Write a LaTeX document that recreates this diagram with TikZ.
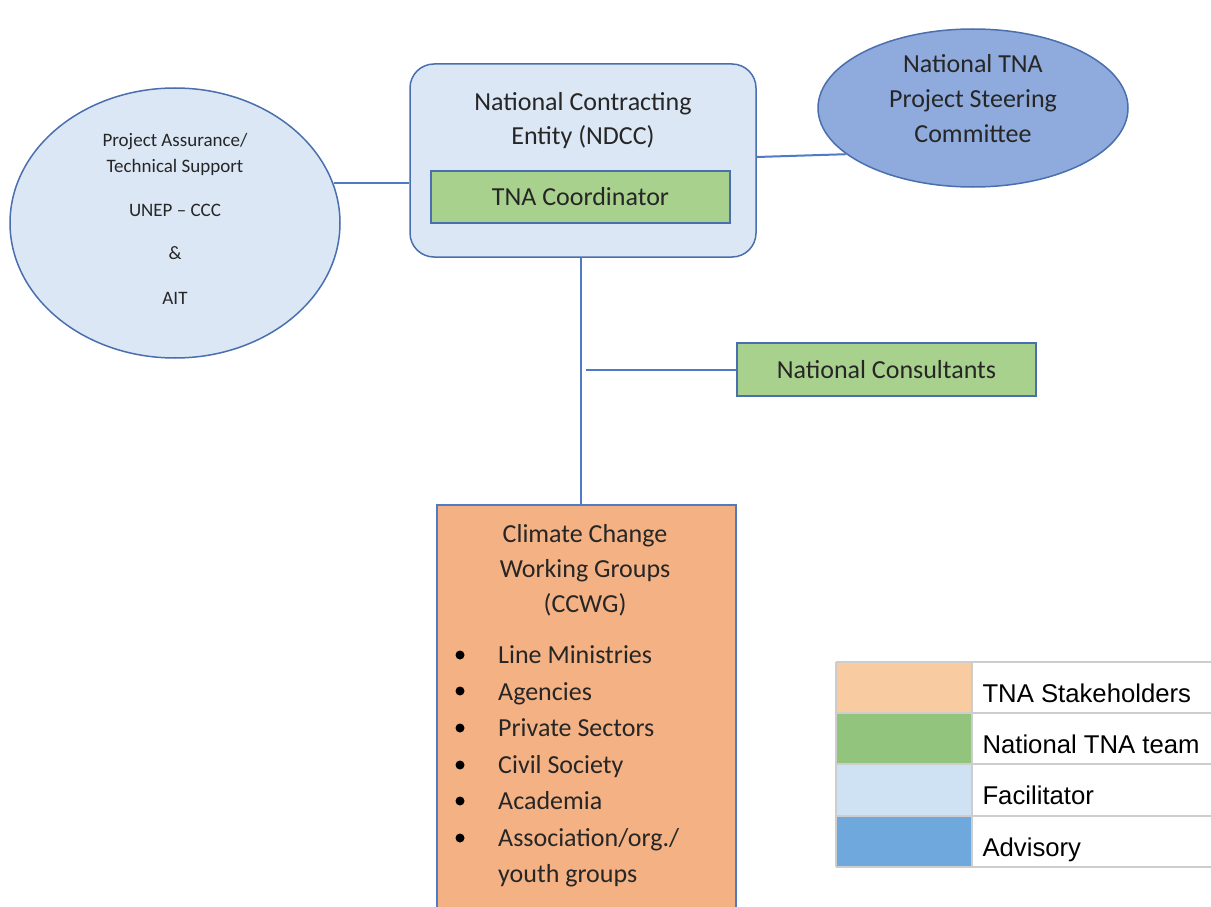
\documentclass[tikz,border=0pt]{standalone}
\usepackage{fontspec}
\setmainfont{Carlito}
\newfontfamily\arialf{Liberation Sans}
\usetikzlibrary{shapes.geometric}
\definecolor{facil}{HTML}{DCE7F5}
\definecolor{bordc}{HTML}{4A6FAE}
\definecolor{linec}{HTML}{4F7BC4}
\definecolor{steer}{HTML}{8FAADC}
\definecolor{teamg}{HTML}{A9D18E}
\definecolor{stake}{HTML}{F4B183}
\definecolor{lgorange}{HTML}{F8CBA0}
\definecolor{lggreen}{HTML}{93C47D}
\definecolor{lglight}{HTML}{CFE2F3}
\definecolor{lgblue}{HTML}{6FA8DC}
\definecolor{lggrid}{HTML}{CDCDCD}
\tikzset{
  shapebd/.style={draw=bordc, line width=1.5pt},
  bigtxt/.style={font=\fontsize{26}{34}\selectfont, align=center, text=black!85},
  smalltxt/.style={font=\fontsize{19}{26}\selectfont, align=center, text=black!85},
  conn/.style={draw=linec, line width=2pt},
  greenbox/.style={shapebd, fill=teamg, rectangle, minimum width=299, minimum height=53},
  legtxt/.style={font=\arialf\fontsize{25.7}{30}\selectfont, anchor=base west},
  gridln/.style={draw=lggrid, line width=1.8pt}
}
\begin{document}
\begin{tikzpicture}[x=1pt,y=-1pt]
\useasboundingbox (0,0) rectangle (1211,907);
\clip (0,0) rectangle (1211,907);

% left ellipse
\node[shapebd, ellipse, fill=facil, minimum width=330, minimum height=270] (pa) at (175,223) {};
\node[smalltxt] (patext) at (175,219) {Project Assurance/\\Technical Support\\[18pt]UNEP -- CCC\\[17pt]\&\\[19pt]AIT};

% NDCC box
\node[shapebd, rectangle, rounded corners=24, fill=facil, minimum width=346, minimum height=193] (ndcc) at (583,160.5) {};
\node[bigtxt] (ndcctext) at (583,121) {National Contracting\\Entity (NDCC)};
\node[greenbox, minimum height=52] (coord) at (580.5,197) {};
\node[bigtxt] (coordtext) at (coord.center) {TNA Coordinator};

% steering ellipse
\node[shapebd, ellipse, fill=steer, minimum width=310, minimum height=158] (sc) at (973,108) {};
\node[bigtxt, font=\fontsize{26}{35}\selectfont] (sctext) at (973,99) {National TNA\\Project Steering\\Committee};

% national consultants
\node[greenbox] (nc) at (886.5,369.5) {};
\node[bigtxt] (nctext) at (nc.center) {National Consultants};

% CCWG
\node[draw=linec, line width=1.5pt, rectangle, fill=stake, minimum width=299, minimum height=407] (ccwg) at (586.5,708.5) {};
\node[bigtxt, font=\fontsize{26}{35}\selectfont] (ccwgtitle) at (585,570) {Climate Change\\Working Groups\\(CCWG)};
\foreach \i/\yy/\txt in {1/663/{Line Ministries}, 2/700/{Agencies}, 3/736/{Private Sectors}, 4/773/{Civil Society}, 5/809/{Academia}, 6/846/{Association/org./}, 7/882/{youth groups}}{
  \node[font=\fontsize{26}{30}\selectfont, anchor=base west, inner sep=0pt, text=black!85] (item\i) at (498,\yy) {\txt};
}
\foreach \i/\yy in {1/655, 2/691, 3/728, 4/765, 5/801, 6/838}{
  \fill[black] (460,\yy) circle (4.5) coordinate (bul\i);
}

% connectors
\draw[conn] (pa.14) -- (pa.14 -| ndcc.west);
\coordinate (sl) at (ndcc.east |- 0,157);
\draw[conn] (sl) -- (sc.200);
\coordinate (vx) at (581,0);
\draw[conn] (ndcc.south -| vx) -- (ccwg.north -| vx);
\coordinate (br) at (586,370);
\draw[conn] (br) -- (br -| nc.west);

% legend
\fill[lgorange] (836,662) rectangle (972,713);
\fill[lggreen]  (836,713) rectangle (972,764);
\fill[lglight]  (836,764) rectangle (972,816);
\fill[lgblue]   (836,816) rectangle (972,867);
\foreach \yy in {662,713,764,816,867}{
  \draw[gridln] (836,\yy) -- (1215,\yy);
}
\draw[gridln] (836,662) -- (836,867);
\draw[gridln] (972,662) -- (972,867);
\node[legtxt] (lg1) at (979,702) {TNA Stakeholders};
\node[legtxt] (lg2) at (979,753) {National TNA team};
\node[legtxt] (lg3) at (979,804) {Facilitator};
\node[legtxt] (lg4) at (979,856) {Advisory};
\end{tikzpicture}
\end{document}
